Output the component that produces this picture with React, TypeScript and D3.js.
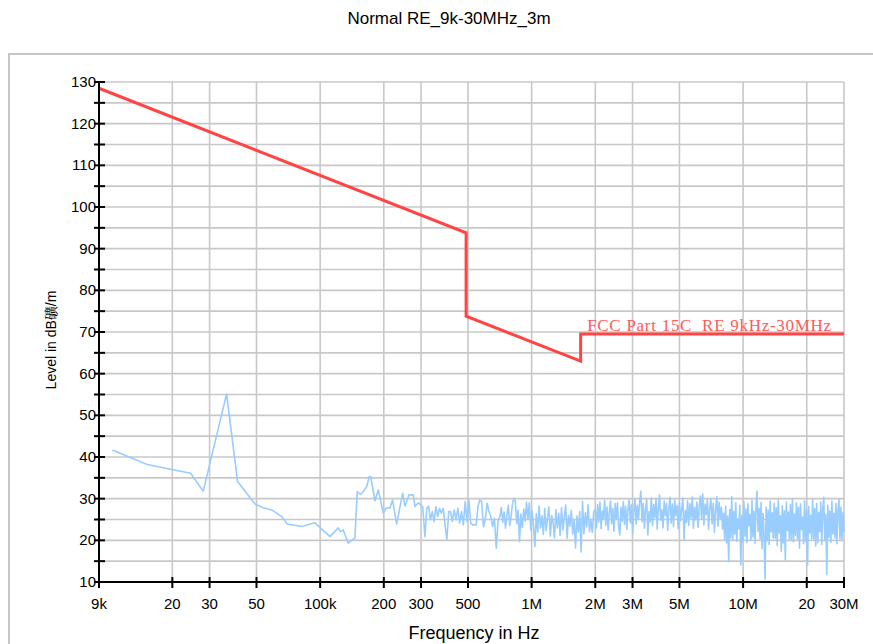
import React from "react";
import * as d3 from "d3";

const chartTitle = "Normal RE_9k-30MHz_3m";
const xAxisTitle = "Frequency in Hz";
const yAxisTitle = "Level in dB礦/m";
const limitLabel = "FCC Part 15C  RE 9kHz-30MHz";

const xTickValues = [9e3, 20e3, 30e3, 50e3, 100e3, 200e3, 300e3, 500e3, 1e6, 2e6, 3e6, 5e6, 10e6, 20e6, 30e6];
const xTickLabels = ["9k", "20", "30", "50", "100k", "200", "300", "500", "1M", "2M", "3M", "5M", "10M", "20", "30M"];
const yMajorTicks = [10, 20, 30, 40, 50, 60, 70, 80, 90, 100, 110, 120, 130];
const yMinorTicks = [15, 25, 35, 45, 55, 65, 75, 85, 95, 105, 115, 125];

// FCC Part 15C limit (dBuV/m at 3 m)
const limitFreq = [9e3, 490e3, 490e3, 1.705e6, 1.705e6, 30e6];
const limitLevel = [128.5, 93.8, 73.8, 63.0, 69.5, 69.5];

// Sparse part of the scan (kHz, dB)
const scanFreqKHz = [
  10.4, 15.2, 24.4, 28.0, 36.1, 40.7, 49.2, 53.8, 59.0, 65.8, 69.9, 81.8, 94.5, 111.3, 121.8, 125, 128.6, 135.8, 146,
  149.8, 155.5, 159.9, 166, 170.7, 173.3, 181.6, 188.3, 198.8, 204.8, 213.8, 220, 230, 245.6, 251.8, 263, 275.7, 280.8, 291, 305.4,
];
const scanLevel = [
  41.7, 38.2, 36.1, 31.8, 55.1, 34.1, 28.7, 27.8, 27.3, 25.7, 23.9, 23.3, 24.2, 20.9, 23.0, 22.1, 22.5, 19.3, 20.6,
  31.7, 31.0, 31.7, 32.9, 35.3, 35.3, 29.5, 32.1, 26.5, 27.7, 27.8, 29.7, 23.9, 31.3, 28.2, 30.9, 30.9, 28.1, 29.0, 28.1,
];

// Dense sweep parts: levels read across each band (equally spaced on the log axis)
const sweepC = [
  20.9, 27.7, 28.2, 24.9, 26.9, 24.5, 28.1, 25.7, 27.7, 26.5, 27.7, 23.7, 20.2, 26.9, 26.9, 24.5, 27.3, 24.9, 27.7, 24.1,
  26.9, 23.7, 29.3, 24.5, 29.7, 24.1, 23.7, 23.7, 23.7, 28.1, 29.7, 29.3, 23.3, 24.9, 28.9, 26.9, 25.7, 23.3, 25.3, 18.1,
  24.9, 25.7,
];
const sweepD = [
  27.9, 24.3, 26.8, 22.9, 26.0, 28.4, 23.5, 25.8, 28.8, 30.1, 29.4, 24.0, 27.2, 19.7, 26.3, 23.1, 27.5, 24.6, 29.2, 25.0,
  29.0, 22.5, 27.0, 23.4, 18.5, 26.4, 22.0, 28.2, 23.0, 25.9, 21.4, 27.6, 22.3, 25.4, 28.0, 21.0, 26.0, 24.2, 20.6, 27.4,
  23.0, 26.5, 21.2, 27.8, 22.5, 25.6, 28.5, 20.5, 26.0, 23.4, 27.2, 21.5, 25.0, 18.2, 25.8, 22.0, 26.9, 17.2, 29.4, 21.6,
  26.6, 23.2, 28.5, 22.1, 25.0, 21.9, 26.8,
];
const sweepE = [
  27.5, 23.0, 28.6, 24.4, 29.2, 22.8, 27.0, 25.2, 29.6, 23.6,
  28.0, 22.5, 26.8, 29.4, 24.0, 27.6, 22.2, 28.8, 25.0, 29.0,
  23.2, 21.3, 27.9, 24.6, 29.3, 23.8, 28.2, 22.6, 27.4, 29.7,
  24.2, 28.5, 21.7, 27.0, 30.0, 23.9, 28.4, 25.1, 29.5, 31.8,
  24.5, 28.9, 22.9, 27.5, 29.8, 21.3, 26.9, 24.4, 30.2, 23.5,
  28.6, 25.5, 29.9, 22.7, 28.1, 30.9, 24.8, 27.3, 23.0, 29.4,
  26.0, 28.9, 22.4, 27.8, 30.3, 24.1, 28.7, 23.3, 29.6, 25.9,
  28.4, 22.8, 29.1, 24.7, 27.6, 30.1, 20.2, 27.2, 24.3, 29.5,
  23.6, 28.8, 25.4, 30.4, 22.9, 27.9, 24.9, 29.2, 23.1, 28.3,
  30.6, 25.0, 31.1, 23.7, 28.7, 26.2, 29.8, 22.6, 27.7, 30.0,
  24.0, 28.9, 21.9, 27.3, 30.5, 23.4, 29.1, 25.2, 28.0, 22.7,
];
const sweepF = [
  26.5, 20.2, 28.2, 19.4, 25.8, 14.9, 27.4, 20.6, 30.5, 20.0,
  26.9, 21.5, 29.0, 19.8, 25.1, 22.8, 28.4, 14.1, 26.0, 19.6,
  29.3, 21.0, 27.5, 19.5, 28.8, 23.5, 26.2, 20.1, 29.6, 20.8,
  27.0, 19.3, 28.5, 31.8, 22.2, 27.7, 20.4, 29.1, 18.0, 26.4,
  21.4, 10.7, 28.0, 19.9, 27.2, 19.0, 29.4, 22.0, 26.6, 20.5,
  28.9, 20.5, 27.8, 18.8, 29.7, 21.7, 25.9, 17.4, 28.3, 19.4,
  27.1, 15.3, 29.2, 22.4, 26.8, 20.2, 28.6, 20.0, 30.0, 19.6,
  26.3, 21.2, 29.0, 20.3, 27.9, 18.1, 28.7, 22.6, 25.6, 19.2,
  29.5, 19.7, 27.3, 14.1, 28.1, 21.8, 26.0, 20.4, 29.8, 20.3,
  27.6, 18.6, 28.9, 19.4, 26.7, 22.1, 29.2, 19.0, 27.4, 30.3,
  20.0, 26.1, 11.8, 28.4, 20.7, 27.0, 19.5, 29.4, 21.5, 26.5,
  20.6, 28.8, 19.2, 27.2, 29.8, 20.4, 28.0, 20.3, 26.6, 22.0,
];
const sweepBands = [
  { startHz: 313e3, stopHz: 708e3, levels: sweepC },
  { startHz: 719e3, stopHz: 1.966e6, levels: sweepD },
  { startHz: 2.0e6, stopHz: 8.0e6, levels: sweepE },
  { startHz: 8.09e6, stopHz: 30e6, levels: sweepF },
];

const W = 873;
const H = 644;
const M = { left: 99, right: 844, top: 82, bottom: 582 };

export default function App() {
  const x = d3.scaleLog().domain([9e3, 30e6]).range([M.left, M.right]);
  const y = d3.scaleLinear().domain([10, 130]).range([M.bottom, M.top]);

  const scan: { f: number; v: number }[] = scanFreqKHz.map((f, i) => ({ f: f * 1e3, v: scanLevel[i] }));
  sweepBands.forEach((b) => {
    const n = b.levels.length;
    const pos = d3.scaleLog().domain([b.startHz, b.stopHz]);
    b.levels.forEach((v, i) => {
      scan.push({ f: pos.invert(i / (n - 1)), v });
    });
  });

  const line = d3
    .line<{ f: number; v: number }>()
    .x((d) => x(d.f))
    .y((d) => y(d.v));
  const limit = limitFreq.map((f, i) => ({ f, v: limitLevel[i] }));

  const gridY = [...yMajorTicks, ...yMinorTicks].filter((v) => v > 10);
  const font = "Arial, 'Liberation Sans', sans-serif";

  return (
    <svg width={W} height={H} style={{ position: "absolute", left: 0, top: 0 }} fontFamily={font}>
      <rect x={0} y={0} width={W} height={H} fill="#ffffff" />
      <rect x={9} y={54} width={900} height={700} fill="#ffffff" stroke="#c6c6c6" strokeWidth={2} />
      <text x={449} y={24} textAnchor="middle" fontSize={17} fill="#000">
        {chartTitle}
      </text>

      {gridY.map((v) => (
        <line key={"gy" + v} x1={M.left} x2={M.right} y1={y(v)} y2={y(v)} stroke="#c8c8c8" strokeWidth={1.6} />
      ))}
      {xTickValues.slice(1).map((v) => (
        <line key={"gx" + v} x1={x(v)} x2={x(v)} y1={M.top} y2={M.bottom} stroke="#c8c8c8" strokeWidth={1.6} />
      ))}

      <path d={line(scan) || ""} fill="none" stroke="#99ccff" strokeWidth={1.6} strokeLinejoin="round" />
      <path d={line(limit) || ""} fill="none" stroke="#ff4444" strokeWidth={3} strokeLinejoin="miter" />
      <text
        x={x(1.83e6)}
        y={y(69.5) - 3.5}
        fontSize={17}
        fontFamily="'Liberation Serif', 'DejaVu Serif', serif"
        fill="#ff5a5a"
        textLength={244}
        lengthAdjust="spacing"
        style={{ whiteSpace: "pre" }}
      >
        {limitLabel}
      </text>

      <line x1={M.left} x2={M.left} y1={M.top} y2={M.bottom + 1} stroke="#000" strokeWidth={2} />
      <line x1={M.left - 1} x2={M.right} y1={M.bottom} y2={M.bottom} stroke="#000" strokeWidth={2} />
      {[...yMajorTicks, ...yMinorTicks].map((v) => (
        <line key={"ty" + v} x1={M.left - 5} x2={M.left + 6} y1={y(v)} y2={y(v)} stroke="#000" strokeWidth={2} />
      ))}
      {xTickValues.map((v) => (
        <line key={"tx" + v} x1={x(v)} x2={x(v)} y1={M.bottom - 5} y2={M.bottom + 6} stroke="#000" strokeWidth={2} />
      ))}
      {yMajorTicks.map((v) => (
        <text key={"ly" + v} x={M.left - 3} y={y(v) + 5} textAnchor="end" fontSize={15} fill="#000">
          {v}
        </text>
      ))}
      {xTickValues.map((v, i) => (
        <text key={"lx" + v} x={x(v)} y={609} textAnchor="middle" fontSize={15} fill="#000">
          {xTickLabels[i]}
        </text>
      ))}
      <text x={474} y={639} textAnchor="middle" fontSize={18} fill="#000">
        {xAxisTitle}
      </text>
      <text transform="translate(56,340) rotate(-90)" textAnchor="middle" fontSize={14} fill="#000">
        {yAxisTitle}
      </text>
    </svg>
  );
}
